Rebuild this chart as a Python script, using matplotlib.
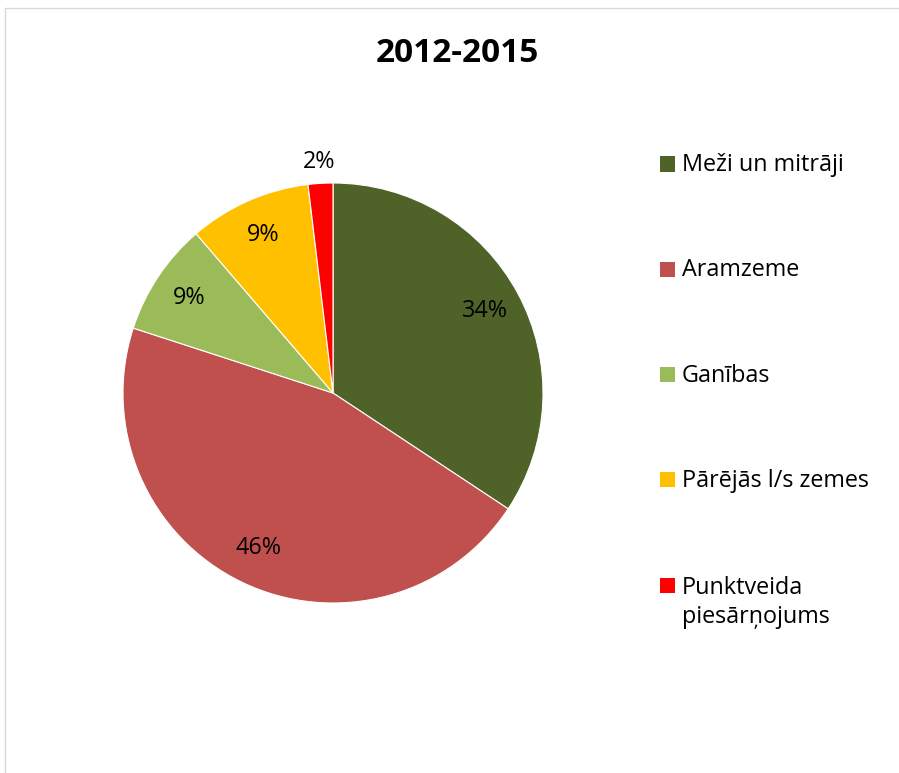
import matplotlib
matplotlib.use("Agg")
import matplotlib.pyplot as plt
import matplotlib.patches as mpatches
import numpy as np

categories = ["Meži un mitrāji", "Aramzeme", "Ganības", "Pārējās l/s zemes", "Punktveida\npiesārņojums"]
values = [34.3, 45.7, 8.7, 9.4, 1.9]
colors = ["#4F6228", "#C0504D", "#9BBB59", "#FFC000", "#FF0000"]
title = "2012-2015"

FONT = "Open Sans"
plt.rcParams['font.family'] = [FONT, 'DejaVu Sans']

W, H = 899, 773
fig = plt.figure(figsize=(W / 100, H / 100), dpi=100)
fig.patch.set_facecolor("white")

# outer border of chart area (right/bottom edges fall outside the picture)
fig.add_artist(mpatches.Rectangle((4.5 / W, -0.05), 1.1, 1.05 - 8.5 / H, transform=fig.transFigure,
                                  fill=False, edgecolor="#D9D9D9", linewidth=1.0))

LABEL_FS = 16.8
cx, cy, r = 333, 393, 210
ax = fig.add_axes([(cx - r) / W, (H - cy - r) / H, 2 * r / W, 2 * r / H])
wedges, texts, autotexts = ax.pie(values, colors=colors, startangle=90, counterclock=False,
                                  autopct=lambda p: f"{p:.0f}%", pctdistance=0.82,
                                  wedgeprops=dict(linewidth=0.8, edgecolor="white"),
                                  textprops=dict(fontsize=LABEL_FS, color="black"))
ax.set_xlim(-1, 1)
ax.set_ylim(-1, 1)
ax.set_aspect("equal")
ax.axis("off")

# small slice label outside
w = wedges[-1]
mid = np.deg2rad((w.theta1 + w.theta2) / 2)
autotexts[-1].set_position((1.1 * np.cos(mid), 1.1 * np.sin(mid)))

fig.text(457 / W, 1 - 53 / H, title, ha="center", va="center", fontsize=24, fontweight="bold")

# legend, laid out like the original (square aligned with first text line)
y0, pitch, sq, line_px = 164, 105.3, 15, 31
for i, (lab, col) in enumerate(zip(categories, colors)):
    yc = y0 + i * pitch
    fig.add_artist(mpatches.Rectangle((660 / W, 1 - (yc + sq / 2) / H), sq / W, sq / H,
                                      transform=fig.transFigure, facecolor=col, edgecolor="none"))
    nlines = lab.count("\n") + 1
    fig.text(682 / W, 1 - (yc + 7 + (nlines - 1) * line_px) / H, lab, ha="left", va="baseline",
             fontsize=LABEL_FS, linespacing=1.3)

fig.savefig("out.png", dpi=100)
